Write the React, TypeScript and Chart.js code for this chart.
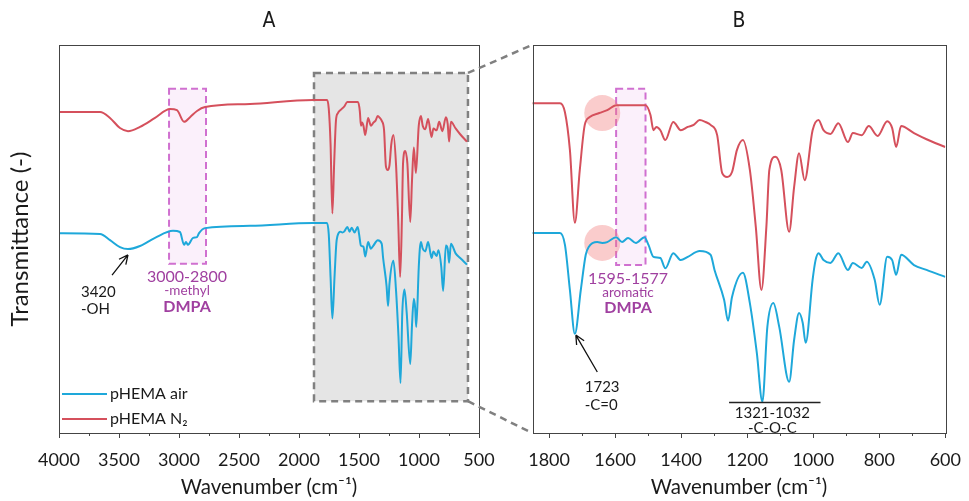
import React, { useEffect, useRef } from "react";
import { Chart, registerables } from "chart.js";
Chart.register(...registerables);

// ---------- data ----------
const seriesLabels = ["pHEMA air", "pHEMA N₂"];
const seriesColors = ["#1ea8da", "#d5505c"];

const blueWavenumbers = [4000, 3658, 3575, 3492, 3425, 3325, 3200, 3050, 2992, 2958, 2942, 2925, 2883, 2850, 2833, 2783, 2408, 1883,
  1850, 1767, 1752, 1737, 1722, 1704, 1689, 1680, 1654, 1639, 1624, 1597, 1579, 1561, 1537, 1511, 1499, 1484, 1463, 1448, 1424, 1401,
  1380, 1344, 1311, 1299, 1270, 1258, 1246, 1213, 1192, 1171, 1154, 1139, 1121, 1103, 1073, 1058, 1043, 1032, 1023, 1002, 993, 984,
  969, 948, 924, 895, 880, 853, 838, 814, 799, 776, 761, 749, 734, 695, 657, 600];
const blueTransmittance = [51.5, 51.3, 49.7, 47.9, 47.4, 48.2, 50.3, 52.1, 51.8, 48.5, 49.2, 48.5, 50.3, 50.5, 51.5, 52.8, 53.4, 54.1,
  54.1, 54.1, 51.2, 40.2, 29.5, 40.2, 48.8, 50.7, 51.9, 51.7, 51.9, 53.1, 51.9, 52.9, 51.7, 53.1, 51.2, 48.3, 48.0, 45.5, 49.2, 47.5,
  48.3, 49.7, 48.8, 45.1, 37.8, 32.7, 38.5, 44.4, 37.0, 24.9, 12.9, 31.2, 37.0, 31.2, 17.8, 28.0, 34.6, 32.2, 27.3, 42.7, 47.5, 49.2,
  47.5, 46.8, 49.2, 45.1, 46.8, 45.6, 47.1, 42.7, 36.6, 48.3, 47.5, 43.9, 48.8, 46.3, 45.1, 43.4];

const redWavenumbers = [4000, 3658, 3575, 3492, 3425, 3325, 3200, 3075, 3017, 2958, 2908, 2850, 2783, 2408, 1883,
  1850, 1767, 1752, 1737, 1722, 1707, 1692, 1677, 1648, 1624, 1597, 1508, 1493, 1484, 1475, 1463, 1448, 1424, 1401, 1380, 1362,
  1344, 1326, 1311, 1291, 1276, 1261, 1246, 1231, 1213, 1192, 1174, 1157, 1142, 1133, 1115, 1097, 1073, 1058, 1043, 1026, 1002,
  984, 969, 948, 924, 895, 880, 853, 832, 805, 776, 761, 749, 734, 695, 657, 600];
const redTransmittance = [82.7, 82.7, 81.2, 78.6, 77.8, 78.9, 81.2, 83.5, 83.2, 80.2, 81.4, 83.0, 84.0, 84.8, 85.8,
  85.8, 85.8, 83.6, 74.4, 56.6, 69.5, 80.5, 82.4, 83.4, 84.1, 85.3, 85.3, 82.9, 79.2, 80.0, 79.2, 76.8, 81.2, 79.2, 80.0, 80.5,
  81.7, 81.2, 80.5, 78.0, 68.8, 67.8, 69.0, 74.4, 76.8, 69.5, 55.6, 40.2, 55.6, 69.5, 72.7, 69.5, 54.4, 65.3, 73.6, 67.0, 79.2,
  81.7, 79.2, 78.3, 80.9, 76.3, 78.5, 78.0, 80.2, 77.8, 81.4, 79.7, 75.1, 80.2, 78.5, 77.0, 75.1];

const ticksA = [4000, 3500, 3000, 2500, 2000, 1500, 1000, 500];
const ticksB = [1800, 1600, 1400, 1200, 1000, 800, 600];
const rangeA = { xMin: 500, xMax: 4000, yMin: 0, yMax: 100 };
const rangeB = { xMin: 600, xMax: 1850, yMin: 5.3, yMax: 100 };

const FONT = "Lato, 'Open Sans', sans-serif";
const PURPLE = "#a040a0";
const INK = "#1a1a1a";

type Panel = "A" | "B";

function pts(xs: number[], ys: number[]) {
  return xs.map((x, i) => ({ x, y: ys[i] }));
}

function text(ctx: CanvasRenderingContext2D, s: string, x: number, y: number, font: string, color: string, align: CanvasTextAlign = "center") {
  ctx.font = font;
  ctx.fillStyle = color;
  ctx.textAlign = align;
  ctx.textBaseline = "middle";
  ctx.fillText(s, x, y);
}

function arrow(ctx: CanvasRenderingContext2D, x1: number, y1: number, x2: number, y2: number) {
  ctx.save();
  ctx.strokeStyle = "#111";
  ctx.lineWidth = 1.3;
  ctx.setLineDash([]);
  ctx.beginPath();
  ctx.moveTo(x1, y1);
  ctx.lineTo(x2, y2);
  const a = Math.atan2(y2 - y1, x2 - x1);
  const L = 10;
  for (const s of [-0.45, 0.45]) {
    ctx.moveTo(x2, y2);
    ctx.lineTo(x2 - L * Math.cos(a + s), y2 - L * Math.sin(a + s));
  }
  ctx.stroke();
  ctx.restore();
}

function dashedBox(ctx: CanvasRenderingContext2D, x1: number, y1: number, x2: number, y2: number, fill: string, stroke: string, w: number, dash: number[]) {
  ctx.save();
  ctx.fillStyle = fill;
  ctx.fillRect(x1, y1, x2 - x1, y2 - y1);
  ctx.setLineDash(dash);
  ctx.lineWidth = w;
  ctx.strokeStyle = stroke;
  ctx.strokeRect(x1, y1, x2 - x1, y2 - y1);
  ctx.restore();
}

function decor(panel: Panel) {
  return {
    id: "decor" + panel,
    beforeDatasetsDraw(chart: any) {
      const { ctx, scales } = chart;
      const px = (v: number) => scales.x.getPixelForValue(v);
      const py = (v: number) => scales.y.getPixelForValue(v);
      if (panel === "A") {
        dashedBox(ctx, px(1875), py(92.8), px(592), py(8.2), "#e5e5e5", "#808080", 2.5, [7, 5]);
        dashedBox(ctx, px(3083), py(88.7), px(2775), py(43.6), "rgba(246,222,246,0.45)", "#d070d0", 2, [7, 4]);
      } else {
        dashedBox(ctx, px(1597), py(89.3), px(1508), py(46.3), "rgba(246,222,246,0.45)", "#d070d0", 2, [7, 4]);
        ctx.save();
        ctx.fillStyle = "rgba(242,120,120,0.38)";
        for (const v of [83.4, 51.7]) {
          ctx.beginPath();
          ctx.arc(px(1639), py(v), 18, 0, Math.PI * 2);
          ctx.fill();
        }
        ctx.restore();
      }
    },
    afterDraw(chart: any) {
      const { ctx, chartArea: ca, scales } = chart;
      const px = (v: number) => scales.x.getPixelForValue(v);
      const py = (v: number) => scales.y.getPixelForValue(v);
      ctx.save();
      // frame
      ctx.strokeStyle = "#444";
      ctx.lineWidth = 1;
      ctx.setLineDash([]);
      ctx.strokeRect(Math.round(ca.left) + 0.5, Math.round(ca.top) + 0.5, Math.round(ca.right - ca.left), Math.round(ca.bottom - ca.top));
      // ticks (outward)
      const ticks = panel === "A" ? ticksA : ticksB;
      ctx.beginPath();
      ticks.forEach((t, i) => {
        const x = Math.round(px(t)) + 0.5;
        ctx.moveTo(x, ca.bottom);
        ctx.lineTo(x, ca.bottom + 5);
        if (i < ticks.length - 1) {
          const m = Math.round(px((t + ticks[i + 1]) / 2)) + 0.5;
          ctx.moveTo(m, ca.bottom);
          ctx.lineTo(m, ca.bottom + 3);
        }
      });
      ctx.stroke();
      // panel title
      text(ctx, panel, (ca.left + ca.right) / 2, 22, "21px 'DejaVu Sans Condensed', 'DejaVu Sans', sans-serif", INK);

      if (panel === "A") {
        // connectors to panel B
        ctx.setLineDash([7, 5]);
        ctx.strokeStyle = "#808080";
        ctx.lineWidth = 2.5;
        ctx.beginPath();
        ctx.moveTo(px(592), py(92.8));
        ctx.lineTo(ca.right + 53, ca.top);
        ctx.moveTo(px(592), py(8.2));
        ctx.lineTo(ca.right + 53, ca.bottom);
        ctx.stroke();
        ctx.setLineDash([]);
        // annotations
        arrow(ctx, px(3558), py(40.7), px(3425), py(45.9));
        text(ctx, "3420", px(3817), py(36.3), `15px ${FONT}`, INK, "left");
        text(ctx, "-OH", px(3817), py(31.8), `15px ${FONT}`, INK, "left");
        text(ctx, "3000-2800", px(2933), py(40.2), `16px ${FONT}`, PURPLE);
        text(ctx, "-methyl", px(2933), py(36.6), `13.5px ${FONT}`, PURPLE);
        text(ctx, "DMPA", px(2933), py(32.5), `bold 16px ${FONT}`, PURPLE);
        // legend
        const ly = [ca.bottom - 39, ca.bottom - 14];
        [0, 1].forEach((i) => {
          ctx.strokeStyle = seriesColors[i];
          ctx.lineWidth = 2;
          ctx.beginPath();
          ctx.moveTo(ca.left + 3, ly[i]);
          ctx.lineTo(ca.left + 48, ly[i]);
          ctx.stroke();
          text(ctx, seriesLabels[i], ca.left + 51, ly[i], `16px ${FONT}`, INK, "left");
        });
      } else {
        arrow(ctx, px(1654), py(20.2), px(1719), py(29.2));
        text(ctx, "1723", px(1692), py(16.5), `15px ${FONT}`, INK, "left");
        text(ctx, "-C=0", px(1692), py(12.1), `15px ${FONT}`, INK, "left");
        text(ctx, "1595-1577", px(1561), py(42.9), `16px ${FONT}`, PURPLE);
        text(ctx, "aromatic", px(1561), py(39.5), `13.5px ${FONT}`, PURPLE);
        text(ctx, "DMPA", px(1561), py(35.8), `bold 16px ${FONT}`, PURPLE);
        ctx.strokeStyle = "#222";
        ctx.lineWidth = 1.3;
        ctx.beginPath();
        ctx.moveTo(px(1255), Math.round(py(12.9)) + 0.5);
        ctx.lineTo(px(978), Math.round(py(12.9)) + 0.5);
        ctx.stroke();
        text(ctx, "1321-1032", px(1124), py(10.2), `15px ${FONT}`, INK);
        text(ctx, "-C-O-C", px(1124), py(6.5), `15px ${FONT}`, INK);
      }
      ctx.restore();
    },
  };
}

function buildConfig(panel: Panel): any {
  const r = panel === "A" ? rangeA : rangeB;
  const ticks = panel === "A" ? ticksA : ticksB;
  return {
    type: "scatter",
    data: {
      datasets: [
        { label: seriesLabels[1], data: pts(redWavenumbers, redTransmittance), borderColor: seriesColors[1] },
        { label: seriesLabels[0], data: pts(blueWavenumbers, blueTransmittance), borderColor: seriesColors[0] },
      ].map((d) => ({ ...d, showLine: true, pointRadius: 0, borderWidth: 2, cubicInterpolationMode: "monotone", backgroundColor: d.borderColor })),
    },
    options: {
      animation: false,
      responsive: false,
      events: [],
      layout: { padding: panel === "A" ? { left: 0, top: 45, right: 61, bottom: 0 } : { left: 12, top: 45, right: 17, bottom: 0 } },
      plugins: { legend: { display: false }, tooltip: { enabled: false }, title: { display: false } },
      scales: {
        x: {
          type: "linear",
          reverse: true,
          min: r.xMin,
          max: r.xMax,
          afterBuildTicks: (s: any) => { s.ticks = ticks.map((v) => ({ value: v })); },
          afterFit: (s: any) => { s.height = 68; },
          grid: { display: false },
          border: { display: false },
          ticks: { font: { family: FONT, size: 18 }, color: INK, padding: 8, maxRotation: 0, autoSkip: false, callback: (v: any) => String(v) },
          title: { display: true, text: "Wavenumber (cm⁻¹)", font: { family: FONT, size: 20.5 }, color: INK, padding: { top: 0, bottom: 1.5 } },
        },
        y: {
          display: panel === "A",
          min: r.yMin,
          max: r.yMax,
          afterFit: (s: any) => { s.width = panel === "A" ? 59 : 0; },
          grid: { display: false },
          border: { display: false },
          ticks: { display: false },
          title: { display: true, text: "Transmittance (-)", font: { family: FONT, size: 24 }, color: INK, padding: { top: 6, bottom: 0 } },
        },
      },
    },
    plugins: [decor(panel)],
  };
}

export default function App() {
  const refA = useRef<HTMLCanvasElement>(null);
  const refB = useRef<HTMLCanvasElement>(null);
  useEffect(() => {
    document.body.style.margin = "0";
    const a = new Chart(refA.current as HTMLCanvasElement, buildConfig("A"));
    const b = new Chart(refB.current as HTMLCanvasElement, buildConfig("B"));
    return () => { a.destroy(); b.destroy(); };
  }, []);
  return (
    <div style={{ position: "relative", width: 969, height: 501, background: "#fff", overflow: "hidden" }}>
      <canvas ref={refA} width={540} height={501} style={{ position: "absolute", left: 0, top: 0 }} />
      <canvas ref={refB} width={449} height={501} style={{ position: "absolute", left: 520, top: 0 }} />
    </div>
  );
}
